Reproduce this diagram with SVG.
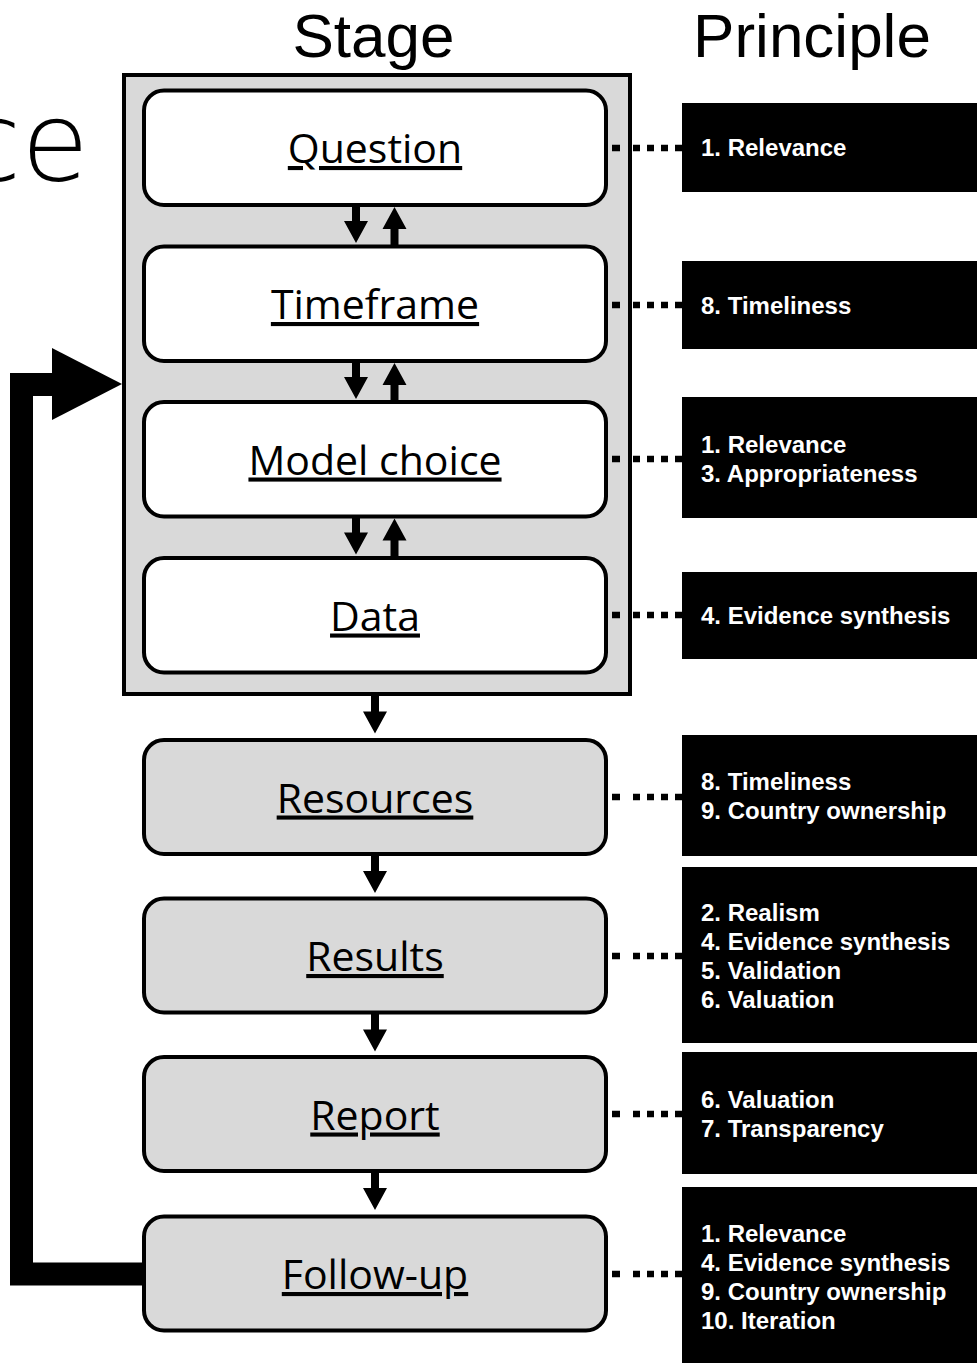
<svg xmlns="http://www.w3.org/2000/svg" xmlns:xlink="http://www.w3.org/1999/xlink" width="979" height="1366" viewBox="0 0 979 1366">
<style>
.box{stroke:#000;stroke-width:4}
.white{fill:#fff}
.grey{fill:#d9d9d9}
.lbl{font-family:'Open Sans','Liberation Sans',Arial,sans-serif;font-size:41px;text-anchor:middle;fill:#000;text-decoration:underline;text-decoration-thickness:4px}
.pbox{fill:#000}
.ptxt{font-family:'Liberation Sans',Arial,sans-serif;font-weight:bold;font-size:24px;fill:#fff}
.head{font-family:'Liberation Sans',Arial,sans-serif;font-size:62px;text-anchor:middle;fill:#000}
.dots{fill:none;stroke:#000;stroke-width:6.5;stroke-dasharray:8 13 7 7 7 7 7 7 7}
.arr{fill:#000}
.big{fill:none;stroke:#000;stroke-width:23;stroke-linejoin:miter}
</style>
<defs>
<path id="arrow" d="M-4,0 H4 V16 H12 L0,38 L-12,16 H-4 Z"/>
</defs>
<rect width="979" height="1366" fill="#fff"/>
<text x="89" y="180" style="font-family:'DejaVu Sans','Liberation Sans',sans-serif;font-weight:200;font-size:110px;text-anchor:end;fill:#000">ce</text>
<text class="head" x="373.5" y="57">Stage</text>
<text class="head" x="812" y="57">Principle</text>

<g id="container"><rect class="box grey" x="124" y="75" width="506" height="619"/></g>

<g id="question"><rect class="box white" x="144" y="90.5" width="462" height="114.5" rx="20"/><text class="lbl" x="375" y="163">Question</text></g>
<g id="timeframe"><rect class="box white" x="144" y="246.5" width="462" height="114.5" rx="20"/><text class="lbl" x="375" y="319">Timeframe</text></g>
<g id="modelchoice"><rect class="box white" x="144" y="402" width="462" height="114.5" rx="20"/><text class="lbl" x="375" y="474.5">Model choice</text></g>
<g id="data"><rect class="box white" x="144" y="558" width="462" height="114.5" rx="20"/><text class="lbl" x="375" y="630.5">Data</text></g>
<g id="resources"><rect class="box grey" x="144" y="740" width="462" height="114" rx="20"/><text class="lbl" x="375" y="812.5">Resources</text></g>
<g id="results"><rect class="box grey" x="144" y="898.5" width="462" height="114" rx="20"/><text class="lbl" x="375" y="971">Results</text></g>
<g id="report"><rect class="box grey" x="144" y="1057" width="462" height="114" rx="20"/><text class="lbl" x="375" y="1129.5">Report</text></g>
<g id="followup"><rect class="box grey" x="144" y="1216.5" width="462" height="114" rx="20"/><text class="lbl" x="375" y="1289">Follow-up</text></g>

<g id="p-question"><rect class="pbox" x="682" y="103" width="295" height="89"/><text class="ptxt" x="701" y="156">1. Relevance</text></g>
<g id="p-timeframe"><rect class="pbox" x="682" y="261" width="295" height="88"/><text class="ptxt" x="701" y="314">8. Timeliness</text></g>
<g id="p-modelchoice"><rect class="pbox" x="682" y="397" width="295" height="121"/><text class="ptxt" x="701" y="453">1. Relevance</text><text class="ptxt" x="701" y="482">3. Appropriateness</text></g>
<g id="p-data"><rect class="pbox" x="682" y="572" width="295" height="87"/><text class="ptxt" x="701" y="624">4. Evidence synthesis</text></g>
<g id="p-resources"><rect class="pbox" x="682" y="735" width="295" height="121"/><text class="ptxt" x="701" y="790">8. Timeliness</text><text class="ptxt" x="701" y="819">9. Country ownership</text></g>
<g id="p-results"><rect class="pbox" x="682" y="867" width="295" height="176"/><text class="ptxt" x="701" y="921">2. Realism</text><text class="ptxt" x="701" y="950">4. Evidence synthesis</text><text class="ptxt" x="701" y="979">5. Validation</text><text class="ptxt" x="701" y="1008">6. Valuation</text></g>
<g id="p-report"><rect class="pbox" x="682" y="1052" width="295" height="122"/><text class="ptxt" x="701" y="1108">6. Valuation</text><text class="ptxt" x="701" y="1137">7. Transparency</text></g>
<g id="p-followup"><rect class="pbox" x="682" y="1187" width="295" height="176"/><text class="ptxt" x="701" y="1242">1. Relevance</text><text class="ptxt" x="701" y="1271">4. Evidence synthesis</text><text class="ptxt" x="701" y="1300">9. Country ownership</text><text class="ptxt" x="701" y="1329">10. Iteration</text></g>

<g id="connectors">
<use href="#arrow" xlink:href="#arrow" class="arr" transform="translate(356,205)"/>
<use href="#arrow" xlink:href="#arrow" class="arr" transform="translate(394.5,245) rotate(180)"/>
<use href="#arrow" xlink:href="#arrow" class="arr" transform="translate(356,361)"/>
<use href="#arrow" xlink:href="#arrow" class="arr" transform="translate(394.5,401) rotate(180)"/>
<use href="#arrow" xlink:href="#arrow" class="arr" transform="translate(356,516.5)"/>
<use href="#arrow" xlink:href="#arrow" class="arr" transform="translate(394.5,556.5) rotate(180)"/>
<use href="#arrow" xlink:href="#arrow" class="arr" transform="translate(375,695.5)"/>
<use href="#arrow" xlink:href="#arrow" class="arr" transform="translate(375,855)"/>
<use href="#arrow" xlink:href="#arrow" class="arr" transform="translate(375,1013.5)"/>
<use href="#arrow" xlink:href="#arrow" class="arr" transform="translate(375,1172)"/>
<path class="dots" d="M612,148 H682"/>
<path class="dots" d="M612,305 H682"/>
<path class="dots" d="M612,459 H682"/>
<path class="dots" d="M612,615 H682"/>
<path class="dots" d="M612,797 H682"/>
<path class="dots" d="M612,956 H682"/>
<path class="dots" d="M612,1114 H682"/>
<path class="dots" d="M612,1274 H682"/>
<path class="big" d="M143,1274 H21.5 V384.5 H60"/>
<polygon class="arr" points="52,348 122,384 52,420"/>
</g>
</svg>
